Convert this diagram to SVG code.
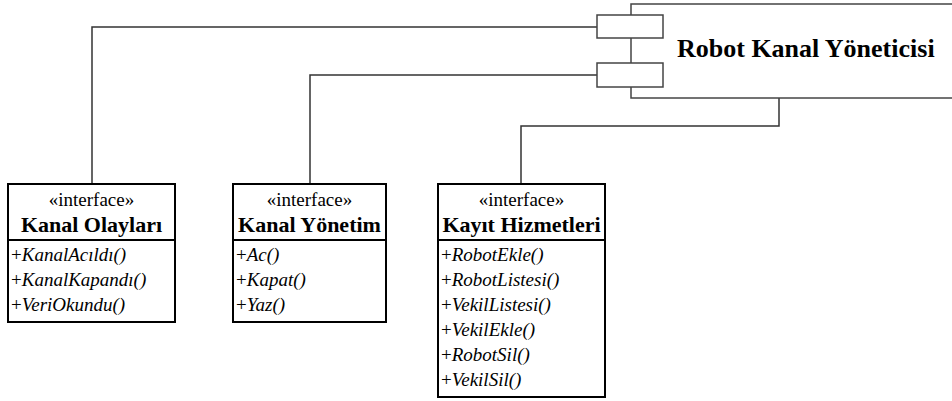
<svg xmlns="http://www.w3.org/2000/svg" width="952" height="401" viewBox="0 0 952 401">
  <style>
    .box { fill: #fff; stroke: #000; stroke-width: 2; }
    .sep { stroke: #000; stroke-width: 2; }
    .comp { fill: #fff; stroke: #444; stroke-width: 1.5; }
    .wire { fill: none; stroke: #333; stroke-width: 1.5; }
    text { font-family: "Liberation Serif", "Times New Roman", serif; fill: #000; }
    .stereo { font-size: 19px; text-anchor: middle; }
    .name { font-size: 22px; font-weight: bold; text-anchor: middle; }
    .op { font-size: 19px; font-style: italic; }
    .plus { font-style: normal; }
    .title { font-size: 26px; font-weight: bold; }
  </style>
  <rect width="952" height="401" fill="#fff"/>

  <!-- connectors -->
  <g id="connectors">
    <polyline class="wire" points="597,27 92,27 92,184"/>
    <polyline class="wire" points="597,75 310,75 310,184"/>
    <polyline class="wire" points="779,98 779,126 521,126 521,184"/>
  </g>

  <!-- component with two ports -->
  <g id="robot-kanal-yoneticisi">
    <rect class="comp" x="631" y="4" width="330" height="94"/>
    <rect class="comp" x="597" y="15" width="66" height="23"/>
    <rect class="comp" x="597" y="63" width="66" height="24"/>
    <text class="title" x="677" y="57">Robot Kanal Yöneticisi</text>
  </g>

  <g id="kanal-olaylari">
    <rect class="box" x="8" y="184" width="167" height="138"/>
    <line class="sep" x1="8" y1="240" x2="175" y2="240"/>
    <text class="stereo" x="91.5" y="206">«interface»</text>
    <text class="name" x="91.5" y="232">Kanal Olayları</text>
    <text class="op" x="11" y="261"><tspan class="plus">+</tspan>KanalAcıldı()</text>
    <text class="op" x="11" y="286"><tspan class="plus">+</tspan>KanalKapandı()</text>
    <text class="op" x="11" y="311"><tspan class="plus">+</tspan>VeriOkundu()</text>
  </g>

  <g id="kanal-yonetim">
    <rect class="box" x="233" y="184" width="153" height="138"/>
    <line class="sep" x1="233" y1="240" x2="386" y2="240"/>
    <text class="stereo" x="309.5" y="206">«interface»</text>
    <text class="name" x="309.5" y="232">Kanal Yönetim</text>
    <text class="op" x="236" y="261"><tspan class="plus">+</tspan>Ac()</text>
    <text class="op" x="236" y="286"><tspan class="plus">+</tspan>Kapat()</text>
    <text class="op" x="236" y="311"><tspan class="plus">+</tspan>Yaz()</text>
  </g>

  <g id="kayit-hizmetleri">
    <rect class="box" x="438" y="184" width="167" height="213"/>
    <line class="sep" x1="438" y1="240" x2="605" y2="240"/>
    <text class="stereo" x="521.5" y="206">«interface»</text>
    <text class="name" x="521.5" y="232">Kayıt Hizmetleri</text>
    <text class="op" x="441" y="261"><tspan class="plus">+</tspan>RobotEkle()</text>
    <text class="op" x="441" y="286"><tspan class="plus">+</tspan>RobotListesi()</text>
    <text class="op" x="441" y="311"><tspan class="plus">+</tspan>VekilListesi()</text>
    <text class="op" x="441" y="336"><tspan class="plus">+</tspan>VekilEkle()</text>
    <text class="op" x="441" y="361"><tspan class="plus">+</tspan>RobotSil()</text>
    <text class="op" x="441" y="386"><tspan class="plus">+</tspan>VekilSil()</text>
  </g>
</svg>
